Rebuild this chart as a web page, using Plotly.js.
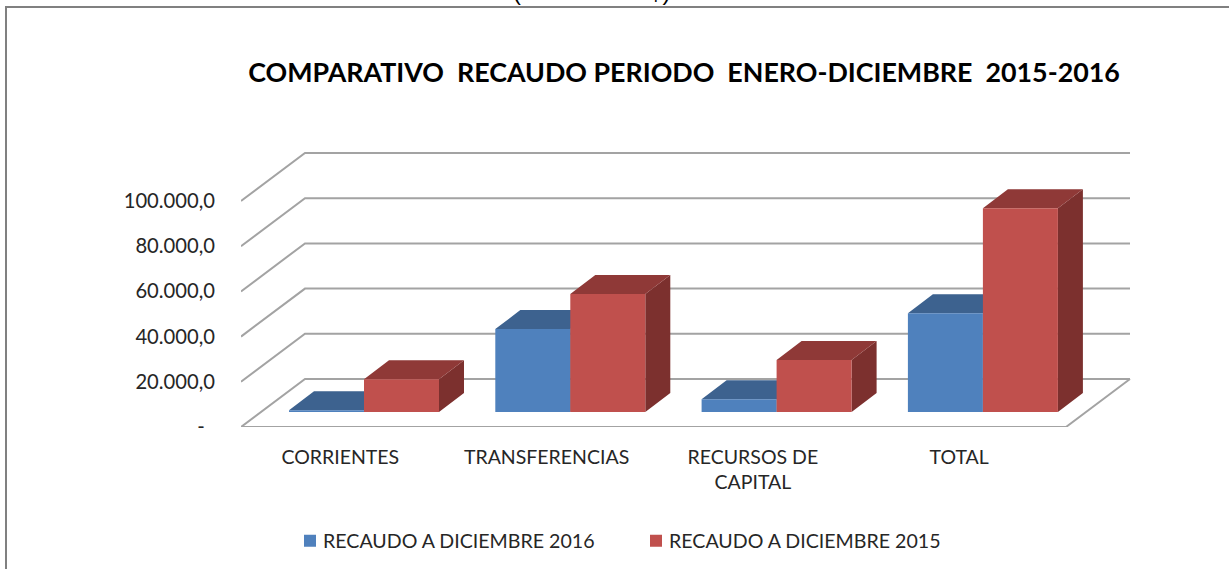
<!DOCTYPE html>
<html>
<head>
<meta charset="utf-8">
<script src="https://cdn.plot.ly/plotly-3.0.1.min.js"></script>
<style>html,body{margin:0;padding:0;background:#fff;overflow:hidden}#c{width:1229px;height:569px}</style>
</head>
<body>
<div id="c"></div>
<script>
const categories = ['CORRIENTES', 'TRANSFERENCIAS', 'RECURSOS DE<br>CAPITAL', 'TOTAL'];
const categoryPositions = [0, 1, 2, 3];
const recaudo2016 = [800, 36700, 5600, 43700];
const recaudo2015 = [14500, 52200, 23000, 90100];
const valueTicks = [0, 20000, 40000, 60000, 80000, 100000];
const valueLabels = ['-\u00A0\u00A0', '20.000,0', '40.000,0', '60.000,0', '80.000,0', '100.000,0'];

// Pseudo-3D projection, in axis units
const W = 1229, H = 569;
const M = {l: 241, r: 94, t: 140, b: 142};
const pxPerCat = 206.3, pxPerVal = 0.00226;
const plotW = W - M.l - M.r, plotH = H - M.t - M.b;
const xAt = p => (p - 364) / pxPerCat;
const barW = 75 / pxPerCat;
const barBase = 15 / pxPerVal;
const barDx = 25 / pxPerCat, barDy = 19 / pxPerVal;
const wallDx = 64 / pxPerCat, wallDy = 48 / pxPerVal;
const floorL = xAt(241), floorR = xAt(1066);

function poly(pts, color, z) {
  return {type:'scatter', mode:'lines', x:pts.map(p=>p&&p[0]), y:pts.map(p=>p&&p[1]),
    fill:'toself', fillcolor:color, line:{width:0}, hoverinfo:'skip', showlegend:false, zorder:z};
}
function faces(vals, off, topColor, sideColor, z) {
  const top = [], side = [];
  vals.forEach((v, i) => {
    const x0 = categoryPositions[i] + off, x1 = x0 + barW, t = barBase + v;
    top.push([x0,t],[x0+barDx,t+barDy],[x1+barDx,t+barDy],[x1,t],[x0,t],null);
    side.push([x1,barBase],[x1+barDx,barBase+barDy],[x1+barDx,t+barDy],[x1,t],[x1,barBase],null);
  });
  return [poly(side, sideColor, z), poly(top, topColor, z)];
}
function bars(name, vals, off, color, z) {
  return {type:'bar', name, x:categoryPositions, y:vals, base:barBase, offset:off, width:barW,
    marker:{color, line:{width:0}}, zorder:z, hoverinfo:'skip'};
}
const gridColor = '#A3A3A3';
const gridX = [], gridY = [];
valueTicks.forEach(v => {
  gridX.push(floorL, floorL + wallDx, floorR + wallDx, null);
  gridY.push(v, v + wallDy, v + wallDy, null);
});
gridX.push(floorL, floorR, floorR + wallDx);
gridY.push(0, 0, wallDy);

const traces = [
  {type:'scatter', mode:'lines', x:gridX, y:gridY, line:{color:gridColor, width:2},
   hoverinfo:'skip', showlegend:false, zorder:0, connectgaps:false},
  ...faces(recaudo2016, -barW, '#3D628F', '#3A5E8A', 1),
  bars('RECAUDO A DICIEMBRE 2016', recaudo2016, -barW, '#4F81BD', 2),
  ...faces(recaudo2015, 0, '#8F3937', '#7C302E', 3),
  bars('RECAUDO A DICIEMBRE 2015', recaudo2015, 0, '#C0504D', 4)
];

const px = p => (p - M.l) / plotW, py = p => (H - M.b - p) / plotH;
const layout = {
  width: W, height: H, autosize:false,
  margin: {l:M.l, r:M.r, t:M.t, b:M.b, pad:0},
  paper_bgcolor:'#fff', plot_bgcolor:'rgba(0,0,0,0)',
  barmode:'overlay',
  font:{family:'Lato, sans-serif', color:'#262626', size:19.5},
  title:{text:'COMPARATIVO  RECAUDO PERIODO  ENERO-DICIEMBRE  2015-2016',
    font:{family:'Lato, sans-serif', size:26.8, color:'#000', weight:700},
    x:684/W, xanchor:'center', y:1-73/H, yanchor:'middle'},
  xaxis:{range:[xAt(241), xAt(1135)], showgrid:false, zeroline:false, showline:false,
    tickmode:'array', tickvals:categoryPositions.map(c=>c-0.115), ticktext:categories,
    ticks:'', ticklabelstandoff:16, tickangle:0, tickfont:{size:19.5, color:'#262626'}},
  yaxis:{range:[0, plotH/pxPerVal], showgrid:false, zeroline:false, showline:false,
    tickmode:'array', tickvals:valueTicks, ticktext:valueLabels,
    ticks:'', ticklabelstandoff:25, tickfont:{size:20.2, color:'#262626'}},
  legend:{orientation:'h', xref:'container', yref:'container', x:283/W, xanchor:'left', y:1-541/H, yanchor:'middle',
    entrywidth:301, entrywidthmode:'pixels',
    font:{size:19.6, color:'#262626'}, bgcolor:'rgba(0,0,0,0)', traceorder:'normal', itemclick:false, itemdoubleclick:false},
  shapes:[{type:'path', xref:'paper', yref:'paper', layer:'below',
    path:`M ${px(6)} ${py(H+5)} L ${px(6)} ${py(7)} L ${px(W+5)} ${py(7)}`,
    line:{color:'#808080', width:2}}],
  annotations:[{text:'(Millones de $)', xref:'paper', yref:'paper', x:px(591), y:py(-9), xanchor:'center', yanchor:'middle',
    showarrow:false, font:{family:'Liberation Sans, Arial, sans-serif', size:24, color:'#000'}}]
};
Plotly.newPlot('c', traces, layout, {displayModeBar:false, staticPlot:true}).then(() => {
  document.querySelectorAll('.legend .legendsymbols').forEach(g => g.setAttribute('transform', 'translate(7,0)'));
});
</script>
</body>
</html>
